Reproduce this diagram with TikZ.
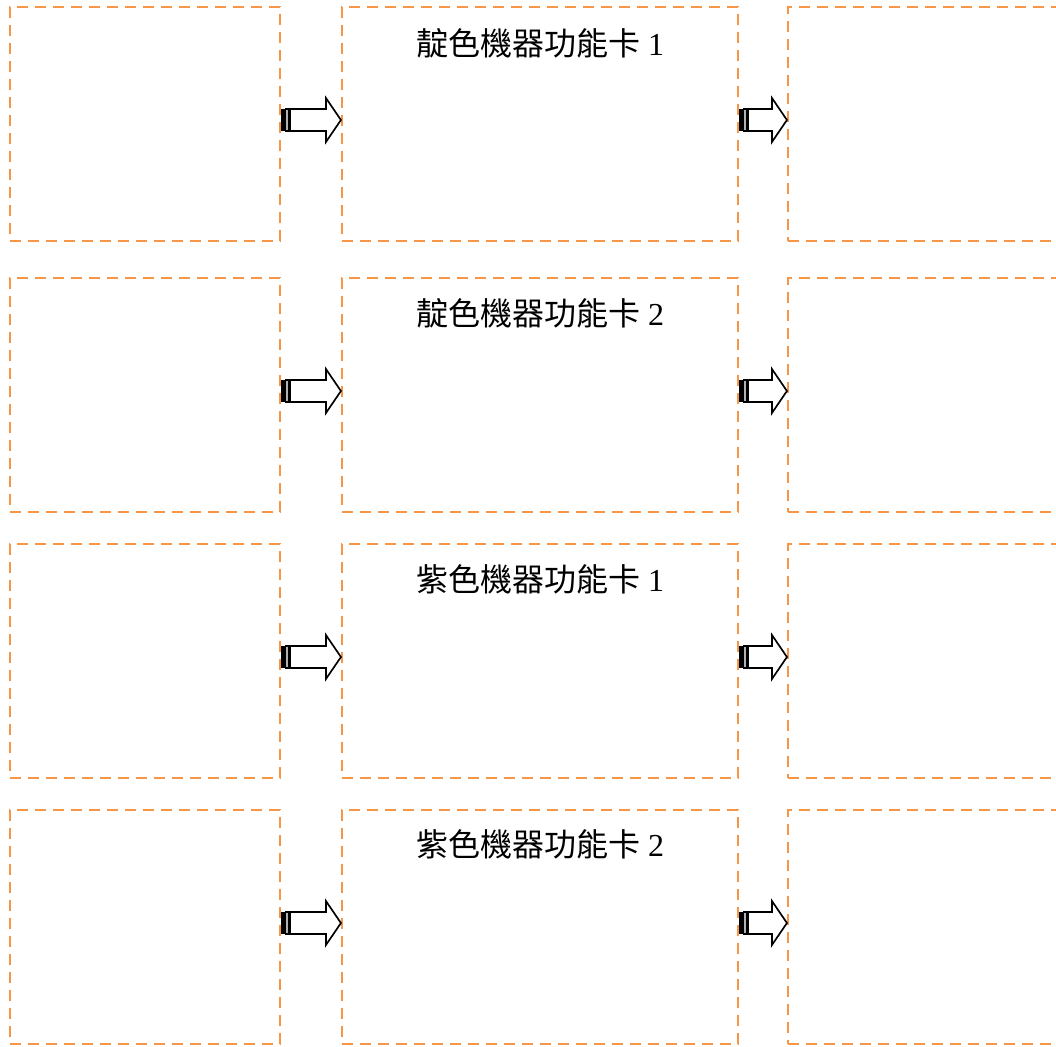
\documentclass[tikz,border=0pt]{standalone}
\usepackage{fontspec}
\setmainfont{Liberation Serif}
\newfontfamily\cjk{Noto Sans CJK TC}
\usetikzlibrary{calc}
\definecolor{boxorange}{HTML}{F79646}
\tikzset{
  dbox/.style={draw=boxorange, line width=1.6pt, dash pattern=on 8.25pt off 5.25pt, rectangle, inner sep=0pt},
  ttl/.style={font=\fontsize{24}{29}\selectfont, inner sep=0pt, anchor=center},
  arrline/.style={draw=black, line width=1.25pt, fill=white, line join=miter}
}
\newcommand\sarrow[2]{%
  \fill[black] ($(#1.east)+(0,-15)$) rectangle ($(#1.east)+(4,7)$);
  \draw[arrline, fill=gray!60] ($(#1.east)+(4.5,-15)$) rectangle ($(#1.east)+(7.5,7)$);
  \draw[arrline] ($(#1.east)+(9,-15)$) -- ($(#2.west)+(-15,-15)$) -- ($(#2.west)+(-15,-26)$)
     -- ($(#2.west)+(0,-4)$) -- ($(#2.west)+(-15,18)$) -- ($(#2.west)+(-15,7)$)
     -- ($(#1.east)+(9,7)$) -- cycle;
}
\begin{document}
\begin{tikzpicture}[x=0.75pt, y=-0.75pt]
\useasboundingbox (0,0) rectangle (1056,1046);
\clip (0,0) rectangle (1056,1046);
\foreach \r/\t/\b in {1/7/241, 2/278/512, 3/544/778, 4/810/1044}{
  \node[dbox, minimum width=270*0.75pt, minimum height={(\b-\t)*0.75pt}] (L\r) at (145, {(\t+\b)/2}) {};
  \node[dbox, minimum width=396*0.75pt, minimum height={(\b-\t)*0.75pt}] (M\r) at (540, {(\t+\b)/2}) {};
  \node[dbox, minimum width=272*0.75pt, minimum height={(\b-\t)*0.75pt}] (R\r) at (924, {(\t+\b)/2}) {};
}
\node[ttl] (T1) at ($(M1.north)+(0,37)$) {{\cjk 靛色機器功能卡} 1};
\node[ttl] (T2) at ($(M2.north)+(0,36)$) {{\cjk 靛色機器功能卡} 2};
\node[ttl] (T3) at ($(M3.north)+(0,36)$) {{\cjk 紫色機器功能卡} 1};
\node[ttl] (T4) at ($(M4.north)+(0,35)$) {{\cjk 紫色機器功能卡} 2};
\foreach \r in {1,2,3,4}{
  \sarrow{L\r}{M\r}
  \sarrow{M\r}{R\r}
}
\end{tikzpicture}
\end{document}
